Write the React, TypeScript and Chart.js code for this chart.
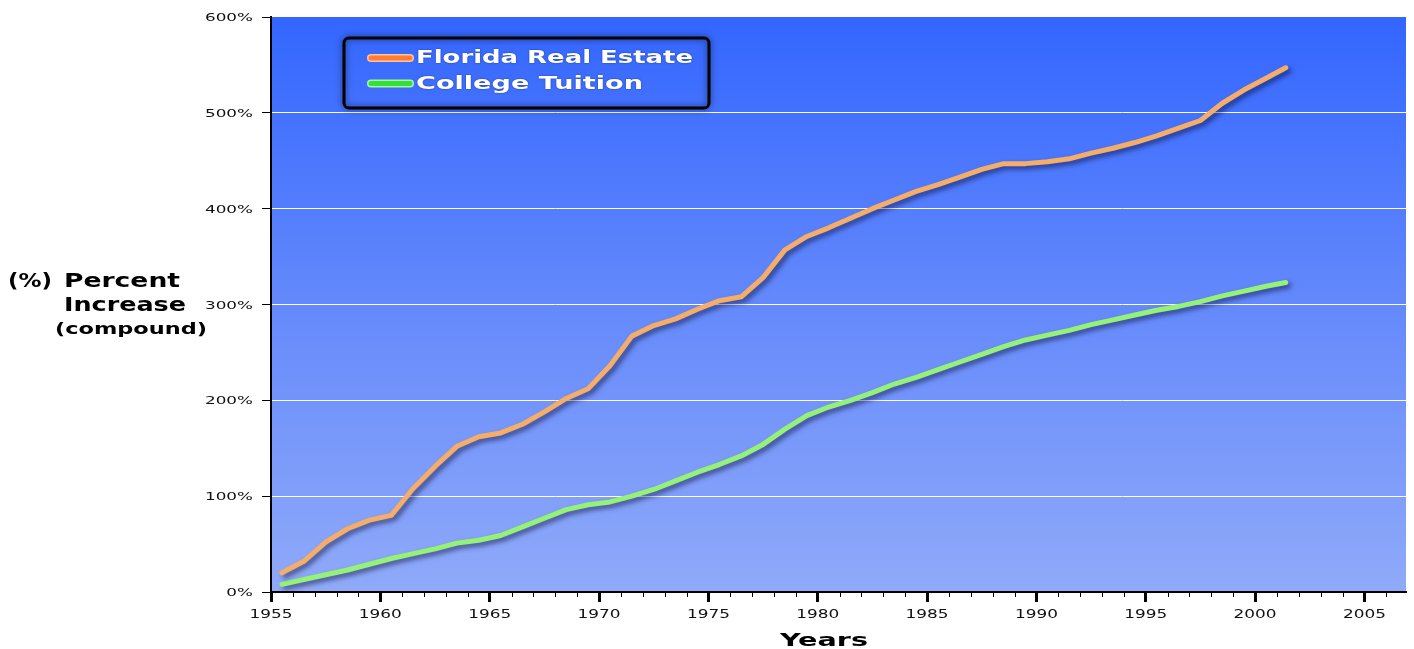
import React, { useEffect, useRef } from 'react';
import { Chart, registerables } from 'chart.js';

Chart.register(...registerables);

// ---- data ----
const years = [
  1955.5, 1956.5, 1957.5, 1958.5, 1959.5, 1960.5, 1961.5, 1962.5, 1963.5, 1964.5,
  1965.5, 1966.5, 1967.5, 1968.5, 1969.5, 1970.5, 1971.5, 1972.5, 1973.5, 1974.5,
  1975.5, 1976.5, 1977.5, 1978.5, 1979.5, 1980.5, 1981.5, 1982.5, 1983.5, 1984.5,
  1985.5, 1986.5, 1987.5, 1988.5, 1989.5, 1990.5, 1991.5, 1992.5, 1993.5, 1994.5,
  1995.5, 1996.5, 1997.5, 1998.5, 1999.5, 2000.5, 2001.4,
];
const floridaRealEstate = [
  20, 32, 52, 66, 75, 80, 108, 131, 152, 162,
  166, 175, 188, 202, 212, 236, 267, 278, 285, 295,
  304, 308, 328, 357, 371, 380, 390, 400, 409, 418,
  425, 433, 441, 447, 447, 449, 452, 458, 463, 469,
  476, 484, 492, 510, 524, 536, 547,
];
const collegeTuition = [
  8, 13, 18, 23, 29, 35, 40, 45, 51, 54,
  59, 68, 77, 86, 91, 94, 100, 107, 116, 125,
  133, 142, 154, 170, 184, 193, 200, 208, 217, 224,
  232, 240, 248, 256, 263, 268, 273, 279, 284, 289,
  294, 298, 303, 309, 314, 319, 323,
];
const seriesNames = ['Florida Real Estate', 'College Tuition'];
const yTickValues = [0, 100, 200, 300, 400, 500, 600];
const xLabelYears = [1955, 1960, 1965, 1970, 1975, 1980, 1985, 1990, 1995, 2000, 2005];
const xMinorYears = [
  1955, 1956, 1957, 1958, 1959, 1960, 1961, 1962, 1963, 1964, 1965, 1966, 1967, 1968,
  1969, 1970, 1971, 1972, 1973, 1974, 1975, 1976, 1977, 1978, 1979, 1980, 1981, 1982,
  1983, 1984, 1985, 1986, 1987, 1988, 1989, 1990, 1991, 1992, 1993, 1994, 1995, 1996,
  1997, 1998, 1999, 2000, 2001, 2002, 2003, 2004, 2005, 2006,
];
const yTitleParts = ['(%)', 'Percent', 'Increase', '(compound)'];
const xTitle = 'Years';

const lineColors = ['#f5ad68', '#95f277'];
const swatchColors = ['#ff7e33', '#33e033'];
const swatchEdges = ['#ffc49c', '#a8f5a8'];

function fitText(
  ctx: CanvasRenderingContext2D,
  text: string,
  x: number,
  y: number,
  sx: number,
  align: 'left' | 'right' | 'center'
) {
  const w = ctx.measureText(text).width * sx;
  let left = x;
  if (align === 'right') left = x - w;
  if (align === 'center') left = x - w / 2;
  ctx.save();
  ctx.translate(left, y);
  ctx.scale(sx, 1);
  ctx.textAlign = 'left';
  ctx.fillText(text, 0, 0);
  ctx.restore();
}

function widthScale(ctx: CanvasRenderingContext2D, text: string, target: number) {
  return target / ctx.measureText(text).width;
}

const decorPlugin = {
  id: 'decor',
  beforeDraw(chart: any) {
    const { ctx, chartArea } = chart;
    const g = ctx.createLinearGradient(0, chartArea.top, 0, chartArea.bottom);
    g.addColorStop(0, '#3366ff');
    g.addColorStop(0.5, '#6489fb');
    g.addColorStop(1, '#90aaf9');
    ctx.save();
    ctx.fillStyle = g;
    ctx.fillRect(chartArea.left, chartArea.top, chartArea.right - chartArea.left, chartArea.bottom - chartArea.top);
    ctx.restore();
  },
  beforeDatasetDraw(chart: any) {
    const ctx = chart.ctx;
    ctx.save();
    ctx.shadowColor = 'rgba(0,0,40,0.55)';
    ctx.shadowBlur = 5;
    ctx.shadowOffsetX = 3;
    ctx.shadowOffsetY = 3;
  },
  afterDatasetDraw(chart: any) {
    chart.ctx.restore();
  },
  afterDraw(chart: any) {
    const { ctx, chartArea } = chart;
    const xs = chart.scales.x;
    const ys = chart.scales.y;
    ctx.save();

    // minor x ticks
    ctx.strokeStyle = '#000';
    ctx.lineWidth = 1;
    xMinorYears.forEach((yr) => {
      if (yr % 5 === 0) return;
      const px = Math.round(xs.getPixelForValue(yr)) + 0.5;
      ctx.beginPath();
      ctx.moveTo(px, chartArea.bottom);
      ctx.lineTo(px, chartArea.bottom + 5);
      ctx.stroke();
    });

    // x tick labels
    ctx.fillStyle = '#111';
    ctx.font = '12px "DejaVu Sans"';
    ctx.textBaseline = 'alphabetic';
    const sxX = widthScale(ctx, '1955', 43);
    xLabelYears.forEach((yr) => {
      fitText(ctx, String(yr), xs.getPixelForValue(yr), 618, sxX, 'center');
    });

    // y tick labels
    ctx.font = '10px "DejaVu Sans"';
    ctx.textBaseline = 'middle';
    const sxY = widthScale(ctx, '600%', 48);
    yTickValues.forEach((v) => {
      fitText(ctx, v + '%', 253, ys.getPixelForValue(v) + 1.5, sxY, 'right');
    });

    // y title
    ctx.fillStyle = '#000';
    ctx.textBaseline = 'alphabetic';
    ctx.font = 'bold 19px "DejaVu Sans"';
    fitText(ctx, yTitleParts[0], 8, 287, widthScale(ctx, yTitleParts[0], 44), 'left');
    fitText(ctx, yTitleParts[1], 64, 287, widthScale(ctx, yTitleParts[1], 116), 'left');
    fitText(ctx, yTitleParts[2], 64, 311, widthScale(ctx, yTitleParts[2], 122), 'left');
    ctx.font = 'bold 16px "DejaVu Sans"';
    fitText(ctx, yTitleParts[3], 55, 334, widthScale(ctx, yTitleParts[3], 152), 'left');

    // x title
    ctx.font = 'bold 17px "DejaVu Sans"';
    fitText(ctx, xTitle, 824, 646, widthScale(ctx, xTitle, 88), 'center');

    // legend box
    ctx.save();
    ctx.shadowColor = 'rgba(0,0,0,0.6)';
    ctx.shadowBlur = 6;
    ctx.strokeStyle = '#000';
    ctx.lineWidth = 3;
    ctx.beginPath();
    (ctx as any).roundRect(344, 38, 365, 70, 5);
    ctx.stroke();
    ctx.restore();

    const legendRows = [58, 83.5];
    const textTargets = [277, 227];
    chart.data.datasets.forEach((ds: any, i: number) => {
      const yy = legendRows[i];
      ctx.lineCap = 'round';
      ctx.strokeStyle = swatchEdges[i];
      ctx.lineWidth = 8;
      ctx.beginPath();
      ctx.moveTo(371, yy);
      ctx.lineTo(410, yy);
      ctx.stroke();
      ctx.strokeStyle = swatchColors[i];
      ctx.lineWidth = 5;
      ctx.beginPath();
      ctx.moveTo(371, yy);
      ctx.lineTo(410, yy);
      ctx.stroke();

      ctx.font = '600 17px "DejaVu Sans"';
      ctx.fillStyle = '#ffffff';
      ctx.textBaseline = 'middle';
      ctx.shadowColor = 'rgba(0,0,60,0.5)';
      ctx.shadowBlur = 2;
      fitText(ctx, ds.label, 416, yy + 1, widthScale(ctx, ds.label, textTargets[i]), 'left');
      ctx.shadowBlur = 0;
      ctx.shadowColor = 'transparent';
    });

    ctx.restore();
  },
};

export default function App() {
  const ref = useRef<HTMLCanvasElement | null>(null);

  useEffect(() => {
    document.body.style.margin = '0';
    const canvas = ref.current;
    if (!canvas) return;
    const chart = new Chart(canvas, {
      type: 'line',
      data: {
        datasets: [
          {
            label: seriesNames[0],
            data: years.map((x, i) => ({ x, y: floridaRealEstate[i] })),
            borderColor: lineColors[0],
            borderWidth: 5,
            pointRadius: 0,
            tension: 0,
            borderCapStyle: 'round',
            borderJoinStyle: 'round',
            fill: false,
          },
          {
            label: seriesNames[1],
            data: years.map((x, i) => ({ x, y: collegeTuition[i] })),
            borderColor: lineColors[1],
            borderWidth: 5,
            pointRadius: 0,
            tension: 0,
            borderCapStyle: 'round',
            borderJoinStyle: 'round',
            fill: false,
          },
        ],
      },
      options: {
        responsive: false,
        animation: false,
        devicePixelRatio: 1,
        layout: { padding: { left: 0, right: 8, top: 17, bottom: 0 } },
        plugins: {
          legend: { display: false },
          tooltip: { enabled: false },
          title: { display: false },
        },
        scales: {
          x: {
            type: 'linear',
            min: 1955,
            max: 2006.9,
            afterBuildTicks: (scale: any) => {
              scale.ticks = xLabelYears.map((v) => ({ value: v }));
            },
            afterFit: (scale: any) => {
              scale.height = 57;
            },
            ticks: { display: false },
            grid: {
              drawOnChartArea: false,
              drawTicks: true,
              tickLength: 10,
              tickWidth: 3,
              tickColor: '#000',
            },
            border: { display: true, color: '#000', width: 2 },
          },
          y: {
            type: 'linear',
            min: 0,
            max: 600,
            afterBuildTicks: (scale: any) => {
              scale.ticks = yTickValues.map((v) => ({ value: v }));
            },
            afterFit: (scale: any) => {
              scale.width = 271;
            },
            ticks: { display: false },
            grid: {
              color: (c: any) => (c.tick && (c.tick.value === 0 || c.tick.value === 600) ? 'rgba(0,0,0,0)' : '#ffffff'),
              lineWidth: 1,
              drawTicks: true,
              tickLength: 9,
              tickColor: '#000',
              tickWidth: 1,
            },
            border: { display: true, color: '#000', width: 2 },
          },
        },
      },
      plugins: [decorPlugin],
    });
    return () => chart.destroy();
  }, []);

  return (
    <div style={{ width: 1414, height: 649, background: '#ffffff' }}>
      <canvas ref={ref} width={1414} height={649} style={{ display: 'block' }} />
    </div>
  );
}
